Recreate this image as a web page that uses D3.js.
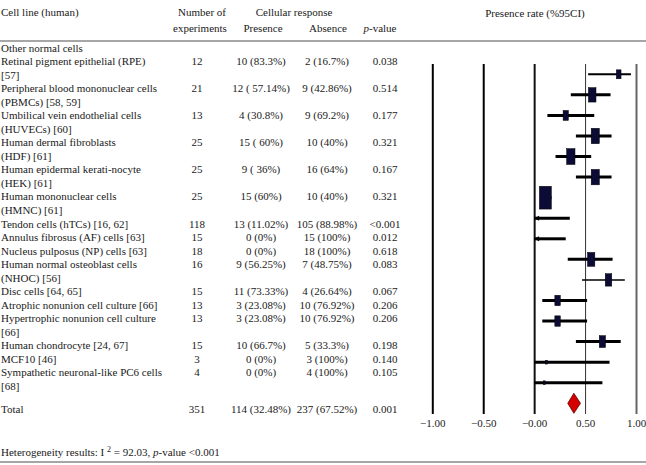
<!DOCTYPE html>
<html><head><meta charset="utf-8">
<script src="https://cdn.jsdelivr.net/npm/d3@7"></script>
<style>
body{margin:0;background:#fff;}
svg text{font-family:"Liberation Serif","Times New Roman",serif;font-size:11px;fill:#1a1a1a;}
</style></head>
<body><svg id="c" width="646" height="465"></svg>
<script>
// ---- data ----
const groupTitle = "Other normal cells";
const cellLines = [
  ["Retinal pigment epithelial (RPE)", "[57]"],
  ["Peripheral blood mononuclear cells", "(PBMCs) [58, 59]"],
  ["Umbilical vein endothelial cells", "(HUVECs) [60]"],
  ["Human dermal fibroblasts", "(HDF) [61]"],
  ["Human epidermal kerati-nocyte", "(HEK) [61]"],
  ["Human mononuclear cells", "(HMNC) [61]"],
  ["Tendon cells (hTCs) [16, 62]"],
  ["Annulus fibrosus (AF) cells [63]"],
  ["Nucleus pulposus (NP) cells [63]"],
  ["Human normal osteoblast cells", "(NHOC) [56]"],
  ["Disc cells [64, 65]"],
  ["Atrophic nonunion cell culture [66]"],
  ["Hypertrophic nonunion cell culture", "[66]"],
  ["Human chondrocyte [24, 67]"],
  ["MCF10 [46]"],
  ["Sympathetic neuronal-like PC6 cells", "[68]"]
];
const experiments = ["12","21","13","25","25","25","118","15","18","16","15","13","13","15","3","4"];
const presence = ["10 (83.3%)","12 ( 57.14%)","4 (30.8%)","15 ( 60%)","9 ( 36%)","15 (60%)","13 (11.02%)","0 (0%)","0 (0%)","9 (56.25%)","11 (73.33%)","3 (23.08%)","3 (23.08%)","10 (66.7%)","0 (0%)","0 (0%)"];
const absence = ["2 (16.7%)","9 (42.86%)","9 (69.2%)","10 (40%)","16 (64%)","10 (40%)","105 (88.98%)","15 (100%)","18 (100%)","7 (48.75%)","4 (26.64%)","10 (76.92%)","10 (76.92%)","5 (33.3%)","3 (100%)","4 (100%)"];
const pValues = ["0.038","0.514","0.177","0.321","0.167","0.321","<0.001","0.012","0.618","0.083","0.067","0.206","0.206","0.198","0.140","0.105"];
// forest plot values
const estimate = [0.83,0.57,0.31,0.60,0.36,0.60,0.11,0,0,0.56,0.73,0.23,0.23,0.67,0.12,0.10];
const lower    = [0.53,0.36,0.13,0.41,0.21,0.41,0.06,0,0,0.33,0.47,0.08,0.08,0.41,0,0];
const upper    = [0.95,0.75,0.59,0.76,0.56,0.76,0.17,0.35,0.31,0.77,0.89,0.52,0.52,0.85,0.74,0.67];
const weights  = [3.4,8.8,4.2,10.1,10.7,10.1,22.1,0,0,8.2,6.5,4.6,4.6,6.0,0.3,0.3];
const total = {label:"Total", n:"351", presence:"114 (32.48%)", absence:"237 (67.52%)", p:"0.001", est:0.39, lo:0.33, hi:0.455};
const tickValues = [-1,-0.5,0,0.5,1];
const tickLabels = ["\u22121.00","\u22120.50","\u22120.00","0.50","1.00"];

// ---- drawing ----
const svg = d3.select("#c");
const colX = {label:1, n:197, pres:261, abs:327, p:385};
const lineY = i => 47.5 + i*13.54;
const base = 4;

// rules
svg.append("line").attr("x1",0).attr("x2",646).attr("y1",41).attr("y2",41).attr("stroke","#888").attr("stroke-width",1.5);
svg.append("line").attr("x1",0).attr("x2",646).attr("y1",462).attr("y2",462).attr("stroke","#888").attr("stroke-width",1.5);

// header
const hdr = [
  {t:"Cell line (human)", x:1, y:16, a:"start"},
  {t:"Number of", x:202, y:16, a:"middle"},
  {t:"experiments", x:200, y:32, a:"middle"},
  {t:"Cellular response", x:294, y:16, a:"middle"},
  {t:"Presence", x:263, y:32, a:"middle"},
  {t:"Absence", x:328, y:32, a:"middle"},
  {t:"Presence rate (%95CI)", x:535, y:17, a:"middle"}
];
svg.selectAll("text.hdr").data(hdr).join("text").attr("class","hdr")
  .attr("x",d=>d.x).attr("y",d=>d.y).attr("text-anchor",d=>d.a).text(d=>d.t);
const pv = svg.append("text").attr("x",380).attr("y",32).attr("text-anchor","middle");
pv.append("tspan").attr("font-style","italic").text("p");
pv.append("tspan").text("-value");

// table rows
svg.append("text").attr("x",colX.label).attr("y",lineY(0)+base).text(groupTitle);
let li = 1;
const rowStart = cellLines.map(l => { const s = li; li += l.length; return s; });
const g = svg.append("g");
cellLines.forEach((lines,i)=>{
  lines.forEach((t,k)=>{
    g.append("text").attr("x",colX.label).attr("y",lineY(rowStart[i]+k)+base).text(t);
  });
  const yy = lineY(rowStart[i])+base;
  g.append("text").attr("x",colX.n).attr("y",yy).attr("text-anchor","middle").text(experiments[i]);
  g.append("text").attr("x",colX.pres).attr("y",yy).attr("text-anchor","middle").text(presence[i]);
  g.append("text").attr("x",colX.abs).attr("y",yy).attr("text-anchor","middle").text(absence[i]);
  g.append("text").attr("x",colX.p).attr("y",yy).attr("text-anchor","middle").text(pValues[i]);
});
const ty = 409+base;
svg.append("text").attr("x",colX.label).attr("y",ty).text(total.label);
svg.append("text").attr("x",colX.n).attr("y",ty).attr("text-anchor","middle").text(total.n);
svg.append("text").attr("x",colX.pres).attr("y",ty).attr("text-anchor","middle").text(total.presence);
svg.append("text").attr("x",colX.abs).attr("y",ty).attr("text-anchor","middle").text(total.absence);
svg.append("text").attr("x",colX.p).attr("y",ty).attr("text-anchor","middle").text(total.p);

const het = svg.append("text").attr("x",1).attr("y",452+base);
het.append("tspan").text("Heterogeneity results: I ");
het.append("tspan").attr("font-size","8px").attr("dy",-4).text("2");
het.append("tspan").attr("dy",4).text(" = 92.03, ");
het.append("tspan").attr("font-style","italic").text("p");
het.append("tspan").text("-value <0.001");

// forest plot
const x = d3.scaleLinear().domain([-1,1]).range([432.3,636]);
const y = d3.scaleLinear().domain([0,cellLines.length]).range([74.3,403.3]);
const plotTop = 64, plotBottom = 414;
const axis = d3.axisBottom(x).tickValues(tickValues)
  .tickFormat((d,i)=>tickLabels[i]).tickSizeInner(-(plotBottom-plotTop)).tickSizeOuter(0).tickPadding(5);
const ax = svg.append("g").attr("transform",`translate(0,${plotBottom})`).call(axis);
ax.select(".domain").remove();
const lineStyle = [{c:"#000",w:2},{c:"#000",w:2},{c:"#111",w:2},{c:"#333",w:1},{c:"#666",w:2}];
ax.selectAll(".tick line").attr("stroke",(d,i)=>lineStyle[i].c).attr("stroke-width",(d,i)=>lineStyle[i].w);
ax.selectAll(".tick text").style("font-family","'Liberation Serif',serif").style("font-size","11px").attr("fill","#1a1a1a");

const ciWidth = i => i===0 ? 2 : (i===10 ? 1.5 : 3);
const size = d3.scaleSqrt().domain([0,22.1]).range([0,12]);
const fg = svg.append("g");
estimate.forEach((e,i)=>{
  const yy = y(i);
  fg.append("line").attr("x1",x(lower[i])).attr("x2",x(upper[i])).attr("y1",yy).attr("y2",yy)
    .attr("stroke","#000").attr("stroke-width",ciWidth(i));
  if (weights[i] > 0) {
    const w = Math.max(size(weights[i]),2), h = Math.max(w*1.9,3);
    fg.append("rect").attr("x",x(e)-w/2).attr("y",yy-h/2).attr("width",w).attr("height",h)
      .attr("fill","#0b0b35").attr("stroke","#000").attr("stroke-width",0.5);
  } else {
    const ax0 = x(lower[i]);
    fg.append("path").attr("d",`M${ax0},${yy} L${ax0+5},${yy-2.5} L${ax0+5},${yy+2.5} Z`).attr("fill","#000");
  }
});
const dyy = y(cellLines.length);
fg.append("path")
  .attr("d",`M${x(total.lo)},${dyy} L${x(total.est)},${dyy-10} L${x(total.hi)},${dyy} L${x(total.est)},${dyy+10} Z`)
  .attr("fill","#d40000").attr("stroke","#600").attr("stroke-width",0.8);
</script></body></html>
